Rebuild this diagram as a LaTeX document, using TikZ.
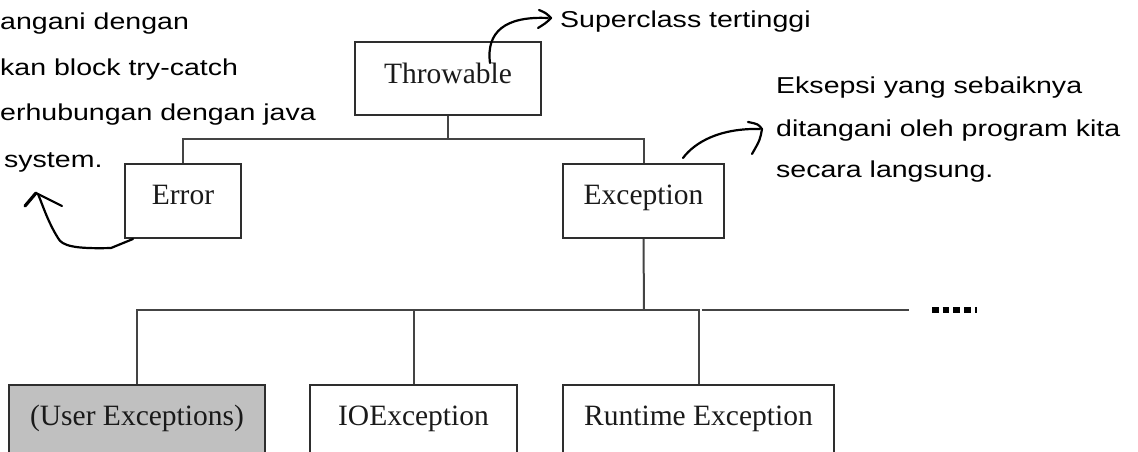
\documentclass[tikz,border=0pt]{standalone}
\usepackage{fontspec}
\setmainfont{Liberation Serif}
\newfontfamily\handfont[FakeStretch=1.24]{Liberation Sans}
\definecolor{boxline}{HTML}{2E2E2E}
\definecolor{linkgray}{HTML}{444444}
\definecolor{usergray}{HTML}{C0C0C0}
\definecolor{boxtext}{HTML}{1A1A1A}
\begin{document}
\begin{tikzpicture}[x=1pt,y=-1pt,
  box/.style={draw=boxline, line width=2pt, inner sep=0pt, anchor=north,
    font=\fontsize{29.5}{30}\selectfont, text=boxtext,
    text height=40pt, text depth=34pt},
  link/.style={draw=linkgray, line width=2pt},
  note/.style={inner sep=0pt, anchor=base west,
    font=\handfont\fontsize{23}{24}\selectfont},
  pen/.style={line width=2.2pt, line cap=round, line join=round}]
\useasboundingbox (0,0) rectangle (1138,452);
\clip (0,0) rectangle (1138,452);

% class boxes
\node[box, minimum width=186pt, text height=42pt, text depth=31pt] (throwable) at (448,41) {Throwable};
\node[box, minimum width=116pt] (error) at (183,163) {Error};
\node[box, minimum width=161pt] (exception) at (643.5,163) {Exception};
\node[box, minimum width=256pt, fill=usergray, text depth=50pt] (user) at (137,384) {(User Exceptions)};
\node[box, minimum width=207pt, text depth=50pt] (io) at (413.5,384) {IOException};
\node[box, minimum width=271pt, text depth=50pt] (runtime) at (698.5,384) {Runtime Exception};

% hierarchy connectors
\coordinate (topbar) at (448,139);
\coordinate (midbar) at (644,310);
\coordinate (more) at (909,310);
\coordinate (dotsstart) at (932,310);
\draw[link] (throwable.south) -- (topbar);
\draw[link] (error.north) -- (error.north |- topbar) -- (exception.north |- topbar) -- (exception.north);
\draw[link] (exception.south) -- (midbar);
\draw[link] (user.north) -- (user.north |- midbar) -- (runtime.north |- midbar) -- (runtime.north);
\draw[link] (io.north) -- (io.north |- midbar);
\draw[link] (runtime.north |- midbar) ++(3,0) -- (more);
\draw[line width=6pt, dash pattern=on 6.5pt off 4.2pt] (dotsstart) -- ++(45,0);

% handwritten notes
\node[note] (sup) at (560,28) {Superclass tertinggi};
\node[note] (l1) at (0,30) {angani dengan};
\node[note] (l2) at (0,75) {kan block try-catch};
\node[note] (l3) at (0,120) {erhubungan dengan java};
\node[note] (l4) at (4,167) {system.};
\node[note] (r1) at (776,93) {Eksepsi yang sebaiknya};
\node[note] (r2) at (776,136) {ditangani oleh program kita};
\node[note] (r3) at (776,177) {secara langsung.};

% hand-drawn arrows
\coordinate (supfrom) at (490,63);
\coordinate (supto) at (548,18);
\draw[pen] (supfrom) .. controls (486,32) and (505,16) .. (supto);
\draw[pen] (539,10) .. controls (546,13) .. (551,18) .. controls (546,23) .. (538,28);

\coordinate (errfrom) at (133,239);
\coordinate (errto) at (38,194);
\draw[pen] (errfrom) -- (111,248) .. controls (75,249) and (62,246) .. (58,238)
  .. controls (48,222) and (43,206) .. (errto);
\draw[pen, line width=3.2pt] (25,206) -- (36,193);
\draw[pen] (36,193) -- (62,206);

\coordinate (excfrom) at (683,158);
\coordinate (excto) at (760,129);
\draw[pen] (excfrom) .. controls (695,142) and (720,128) .. (excto);
\draw[pen] (748,122) .. controls (758,124) .. (762,129) .. controls (760,140) .. (752,154);
\end{tikzpicture}
\end{document}
